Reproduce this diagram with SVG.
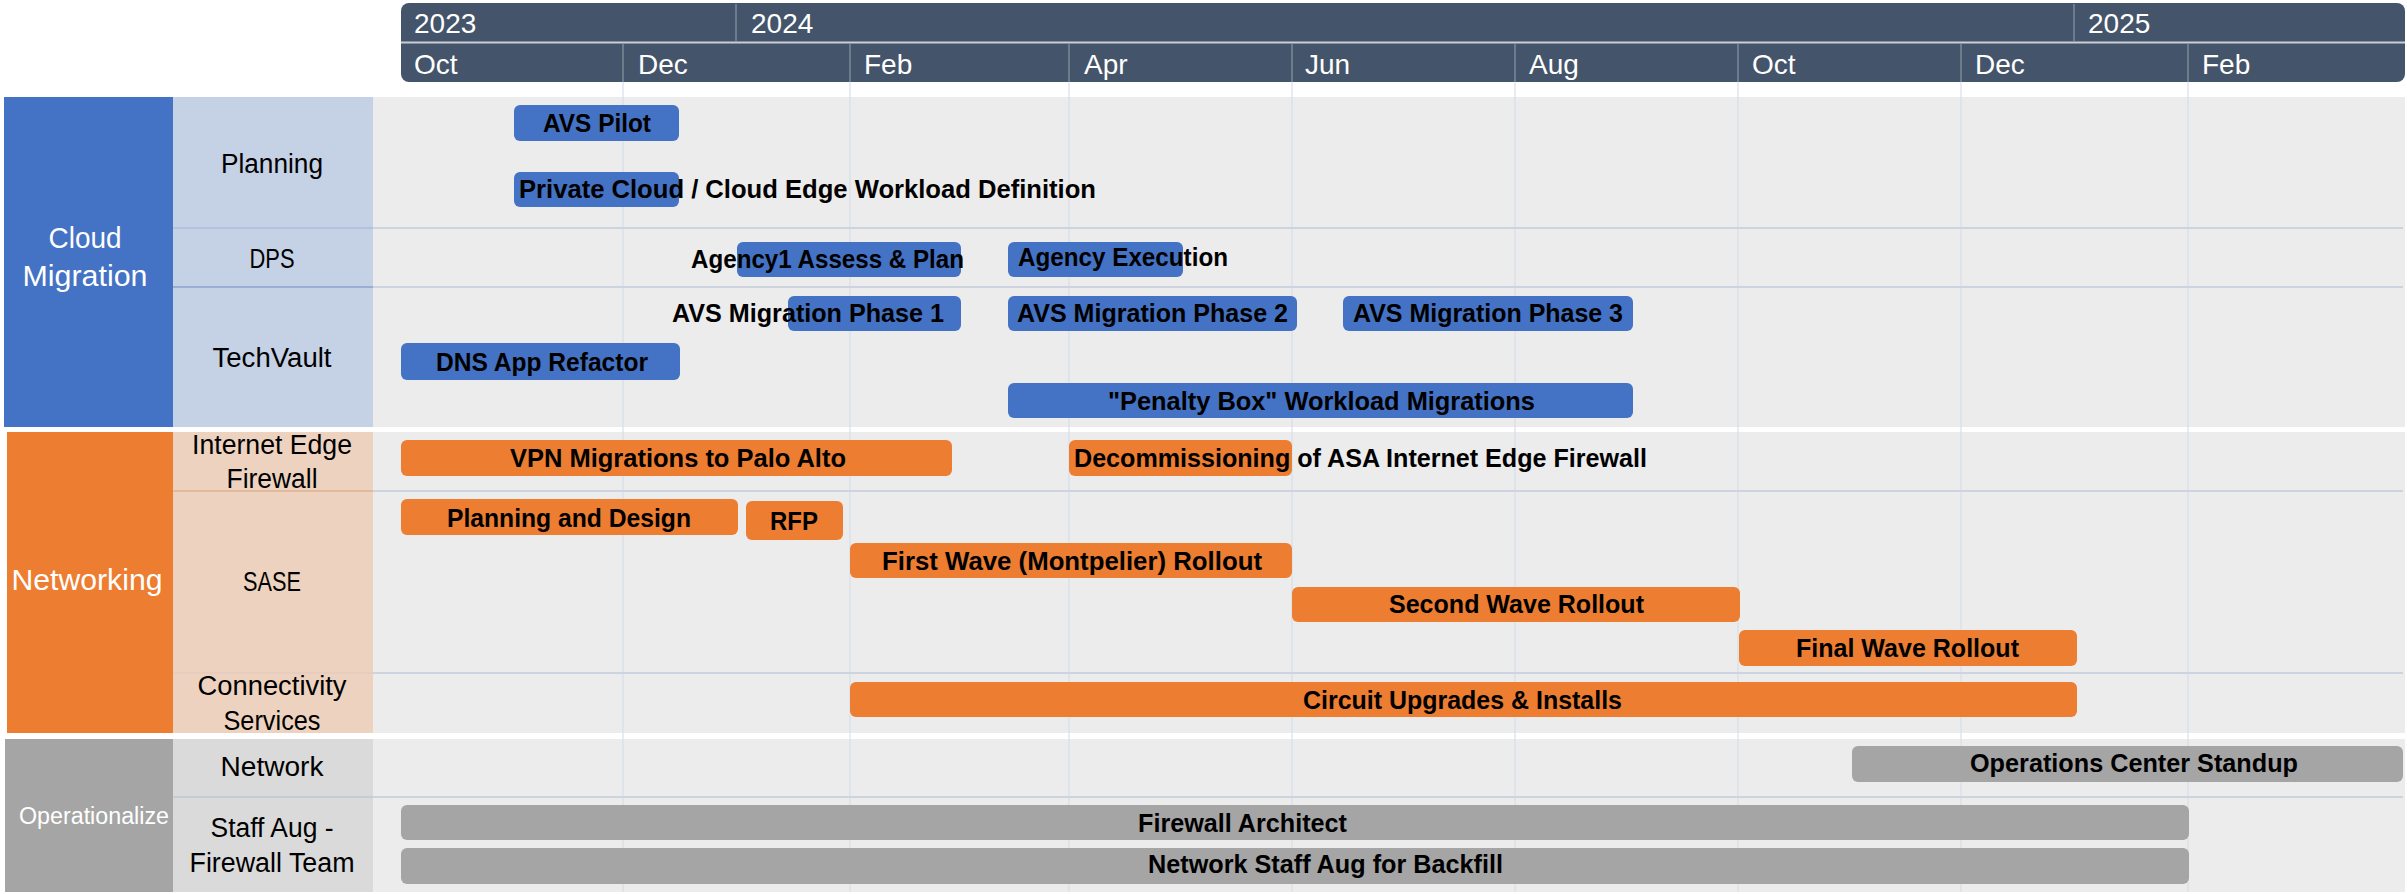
<svg xmlns="http://www.w3.org/2000/svg" width="2407" height="894" viewBox="0 0 2407 894">
<style>
.hd{font-family:"Liberation Sans",Arial,sans-serif;font-size:28px;fill:#FFFFFF}
.cat{font-family:"Liberation Sans",Arial,sans-serif;fill:#FFFFFF;text-anchor:middle}
.sub{font-family:"Liberation Sans",Arial,sans-serif;font-size:27px;fill:#000000;text-anchor:middle}
.bl{font-family:"Liberation Sans",Arial,sans-serif;font-size:25px;font-weight:bold;fill:#000000}
.grid{stroke:#D5DFEA;stroke-width:1.2}
.row{stroke:#CDD4DF;stroke-width:2}
.blue{fill:#4472C4}
.orange{fill:#ED7D31}
.grey{fill:#A5A5A5}
</style>
<rect x="0" y="0" width="2407" height="894" fill="#FFFFFF"/>

<!-- Body backgrounds -->
<g id="backgrounds">
  <rect x="373" y="97" width="2032" height="330" fill="#ECECEC"/>
  <rect x="373" y="432" width="2032" height="301" fill="#ECECEC"/>
  <rect x="373" y="739" width="2032" height="153" fill="#ECECEC"/>
</g>

<!-- Grid lines -->
<g id="gridlines">
  <line class="grid" x1="623" y1="82" x2="623" y2="892"/>
  <line class="grid" x1="850" y1="82" x2="850" y2="892"/>
  <line class="grid" x1="1069" y1="82" x2="1069" y2="892"/>
  <line class="grid" x1="1292" y1="82" x2="1292" y2="892"/>
  <line class="grid" x1="1515" y1="82" x2="1515" y2="892"/>
  <line class="grid" x1="1738" y1="82" x2="1738" y2="892"/>
  <line class="grid" x1="1961" y1="82" x2="1961" y2="892"/>
  <line class="grid" x1="2188" y1="82" x2="2188" y2="892"/>
  <line class="row" x1="373" y1="228" x2="2403" y2="228"/>
  <line class="row" x1="373" y1="287" x2="2403" y2="287"/>
  <line class="row" x1="373" y1="491" x2="2403" y2="491"/>
  <line class="row" x1="373" y1="673" x2="2403" y2="673"/>
  <line class="row" x1="373" y1="797" x2="2403" y2="797"/>
</g>

<!-- Header -->
<g id="header">
  <rect x="401" y="3" width="2004" height="79" rx="8" fill="#44546A"/>
  <line x1="401" y1="42.5" x2="2405" y2="42.5" stroke="#C9CED6" stroke-width="2"/>
  <g stroke="#7D8899" stroke-width="1.5">
    <line x1="736" y1="4" x2="736" y2="41"/>
    <line x1="2074" y1="4" x2="2074" y2="41"/>
    <line x1="623" y1="44" x2="623" y2="82"/>
    <line x1="850" y1="44" x2="850" y2="82"/>
    <line x1="1069" y1="44" x2="1069" y2="82"/>
    <line x1="1292" y1="44" x2="1292" y2="82"/>
    <line x1="1515" y1="44" x2="1515" y2="82"/>
    <line x1="1738" y1="44" x2="1738" y2="82"/>
    <line x1="1961" y1="44" x2="1961" y2="82"/>
    <line x1="2188" y1="44" x2="2188" y2="82"/>
  </g>
  <text class="hd" x="414" y="33">2023</text>
  <text class="hd" x="751" y="33">2024</text>
  <text class="hd" x="2088" y="33">2025</text>
  <text class="hd" x="414" y="74">Oct</text>
  <text class="hd" x="638" y="74">Dec</text>
  <text class="hd" x="864" y="74">Feb</text>
  <text class="hd" x="1084" y="74">Apr</text>
  <text class="hd" x="1305" y="74">Jun</text>
  <text class="hd" x="1529" y="74">Aug</text>
  <text class="hd" x="1752" y="74">Oct</text>
  <text class="hd" x="1975" y="74">Dec</text>
  <text class="hd" x="2202" y="74">Feb</text>
</g>

<!-- Categories -->
<g id="cat-cloud">
  <rect x="4" y="97" width="169" height="330" fill="#4472C4"/>
  <text class="cat" x="85" y="248" font-size="29" textLength="73" lengthAdjust="spacingAndGlyphs">Cloud</text>
  <text class="cat" x="85" y="286" font-size="29" textLength="125" lengthAdjust="spacingAndGlyphs">Migration</text>
</g>
<g id="cat-networking">
  <rect x="7" y="432" width="166" height="301" fill="#ED7D31"/>
  <text class="cat" x="87" y="590" font-size="29" textLength="151" lengthAdjust="spacingAndGlyphs">Networking</text>
</g>
<g id="cat-operationalize">
  <rect x="5" y="739" width="168" height="153" fill="#A5A5A5"/>
  <text class="cat" x="94" y="824" font-size="23" textLength="150" lengthAdjust="spacingAndGlyphs">Operationalize</text>
</g>

<!-- Subcategories -->
<g id="sub-planning">
  <rect x="173" y="97" width="200" height="131" fill="#C5D1E4"/>
  <text class="sub" x="272" y="173" textLength="102" lengthAdjust="spacingAndGlyphs">Planning</text>
</g>
<g id="sub-dps">
  <rect x="173" y="228" width="200" height="59" fill="#C5D1E4"/>
  <line x1="173" y1="228" x2="373" y2="228" stroke="#B3C2DC" stroke-width="2"/>
  <text class="sub" x="272" y="268" textLength="45" lengthAdjust="spacingAndGlyphs">DPS</text>
</g>
<g id="sub-techvault">
  <rect x="173" y="287" width="200" height="140" fill="#C5D1E4"/>
  <line x1="173" y1="287" x2="373" y2="287" stroke="#98AED2" stroke-width="2"/>
  <text class="sub" x="272" y="367" textLength="119" lengthAdjust="spacingAndGlyphs">TechVault</text>
</g>
<g id="sub-internet-edge">
  <rect x="173" y="432" width="200" height="59" fill="#EDD2BF"/>
  <text class="sub" x="272" y="454" textLength="160" lengthAdjust="spacingAndGlyphs">Internet Edge</text>
  <text class="sub" x="272" y="488" textLength="91" lengthAdjust="spacingAndGlyphs">Firewall</text>
</g>
<g id="sub-sase">
  <rect x="173" y="491" width="200" height="182" fill="#EDD2BF"/>
  <line x1="173" y1="491" x2="373" y2="491" stroke="#E3B99C" stroke-width="2"/>
  <text class="sub" x="272" y="591" textLength="58" lengthAdjust="spacingAndGlyphs">SASE</text>
</g>
<g id="sub-connectivity">
  <rect x="173" y="673" width="200" height="60" fill="#EDD2BF"/>
  <line x1="173" y1="673" x2="373" y2="673" stroke="#E6CDBE" stroke-width="2"/>
  <text class="sub" x="272" y="695" textLength="149" lengthAdjust="spacingAndGlyphs">Connectivity</text>
  <text class="sub" x="272" y="730" textLength="97" lengthAdjust="spacingAndGlyphs">Services</text>
</g>
<g id="sub-network">
  <rect x="173" y="739" width="200" height="58" fill="#DADADA"/>
  <text class="sub" x="272" y="776" textLength="103" lengthAdjust="spacingAndGlyphs">Network</text>
</g>
<g id="sub-staffaug">
  <rect x="173" y="797" width="200" height="95" fill="#DADADA"/>
  <line x1="173" y1="797" x2="373" y2="797" stroke="#C7CCD3" stroke-width="2"/>
  <text class="sub" x="272" y="837" textLength="123" lengthAdjust="spacingAndGlyphs">Staff Aug -</text>
  <text class="sub" x="272" y="872" textLength="165" lengthAdjust="spacingAndGlyphs">Firewall Team</text>
</g>

<!-- Bars -->
<g id="bar-avs-pilot">
  <rect class="blue" x="514" y="105" width="165" height="36" rx="6"/>
  <text class="bl" x="543" y="132" textLength="108" lengthAdjust="spacingAndGlyphs">AVS Pilot</text>
</g>
<g id="bar-private-cloud">
  <rect class="blue" x="514" y="172" width="165" height="35" rx="6"/>
  <text class="bl" x="519" y="198" textLength="577" lengthAdjust="spacingAndGlyphs">Private Cloud / Cloud Edge Workload Definition</text>
</g>
<g id="bar-agency1">
  <rect class="blue" x="737" y="242" width="224" height="35" rx="6"/>
  <text class="bl" x="691" y="268" textLength="273" lengthAdjust="spacingAndGlyphs">Agency1 Assess &amp; Plan</text>
</g>
<g id="bar-agency-exec">
  <rect class="blue" x="1008" y="242" width="175" height="35" rx="6"/>
  <text class="bl" x="1018" y="266" textLength="210" lengthAdjust="spacingAndGlyphs">Agency Execution</text>
</g>
<g id="bar-avs-p1">
  <rect class="blue" x="788" y="296" width="173" height="35" rx="6"/>
  <text class="bl" x="672" y="322" textLength="272" lengthAdjust="spacingAndGlyphs">AVS Migration Phase 1</text>
</g>
<g id="bar-avs-p2">
  <rect class="blue" x="1008" y="296" width="289" height="35" rx="6"/>
  <text class="bl" x="1017" y="322" textLength="271" lengthAdjust="spacingAndGlyphs">AVS Migration Phase 2</text>
</g>
<g id="bar-avs-p3">
  <rect class="blue" x="1343" y="296" width="290" height="35" rx="6"/>
  <text class="bl" x="1353" y="322" textLength="270" lengthAdjust="spacingAndGlyphs">AVS Migration Phase 3</text>
</g>
<g id="bar-dns">
  <rect class="blue" x="401" y="343" width="279" height="37" rx="6"/>
  <text class="bl" x="436" y="371" textLength="212" lengthAdjust="spacingAndGlyphs">DNS App Refactor</text>
</g>
<g id="bar-penalty">
  <rect class="blue" x="1008" y="383" width="625" height="35" rx="6"/>
  <text class="bl" x="1108" y="410" textLength="427" lengthAdjust="spacingAndGlyphs">"Penalty Box" Workload Migrations</text>
</g>
<g id="bar-vpn">
  <rect class="orange" x="401" y="440" width="551" height="36" rx="6"/>
  <text class="bl" x="510" y="467" textLength="336" lengthAdjust="spacingAndGlyphs">VPN Migrations to Palo Alto</text>
</g>
<g id="bar-decom">
  <rect class="orange" x="1069" y="440" width="223" height="36" rx="6"/>
  <text class="bl" x="1074" y="467" textLength="573" lengthAdjust="spacingAndGlyphs">Decommissioning of ASA Internet Edge Firewall</text>
</g>
<g id="bar-plan-design">
  <rect class="orange" x="401" y="499" width="337" height="36" rx="6"/>
  <text class="bl" x="447" y="527" textLength="244" lengthAdjust="spacingAndGlyphs">Planning and Design</text>
</g>
<g id="bar-rfp">
  <rect class="orange" x="746" y="501" width="97" height="39" rx="6"/>
  <text class="bl" x="770" y="530" textLength="48" lengthAdjust="spacingAndGlyphs">RFP</text>
</g>
<g id="bar-first-wave">
  <rect class="orange" x="850" y="543" width="442" height="35" rx="6"/>
  <text class="bl" x="882" y="570" textLength="380" lengthAdjust="spacingAndGlyphs">First Wave (Montpelier) Rollout</text>
</g>
<g id="bar-second-wave">
  <rect class="orange" x="1292" y="587" width="448" height="35" rx="6"/>
  <text class="bl" x="1389" y="613" textLength="255" lengthAdjust="spacingAndGlyphs">Second Wave Rollout</text>
</g>
<g id="bar-final-wave">
  <rect class="orange" x="1739" y="630" width="338" height="36" rx="6"/>
  <text class="bl" x="1796" y="657" textLength="223" lengthAdjust="spacingAndGlyphs">Final Wave Rollout</text>
</g>
<g id="bar-circuit">
  <rect class="orange" x="850" y="682" width="1227" height="35" rx="6"/>
  <text class="bl" x="1303" y="709" textLength="319" lengthAdjust="spacingAndGlyphs">Circuit Upgrades &amp; Installs</text>
</g>
<g id="bar-ops-center">
  <rect class="grey" x="1852" y="746" width="551" height="36" rx="6"/>
  <text class="bl" x="1970" y="772" textLength="328" lengthAdjust="spacingAndGlyphs">Operations Center Standup</text>
</g>
<g id="bar-fw-architect">
  <rect class="grey" x="401" y="805" width="1788" height="35" rx="6"/>
  <text class="bl" x="1138" y="832" textLength="209" lengthAdjust="spacingAndGlyphs">Firewall Architect</text>
</g>
<g id="bar-staff-backfill">
  <rect class="grey" x="401" y="848" width="1788" height="36" rx="6"/>
  <text class="bl" x="1148" y="873" textLength="355" lengthAdjust="spacingAndGlyphs">Network Staff Aug for Backfill</text>
</g>
</svg>
